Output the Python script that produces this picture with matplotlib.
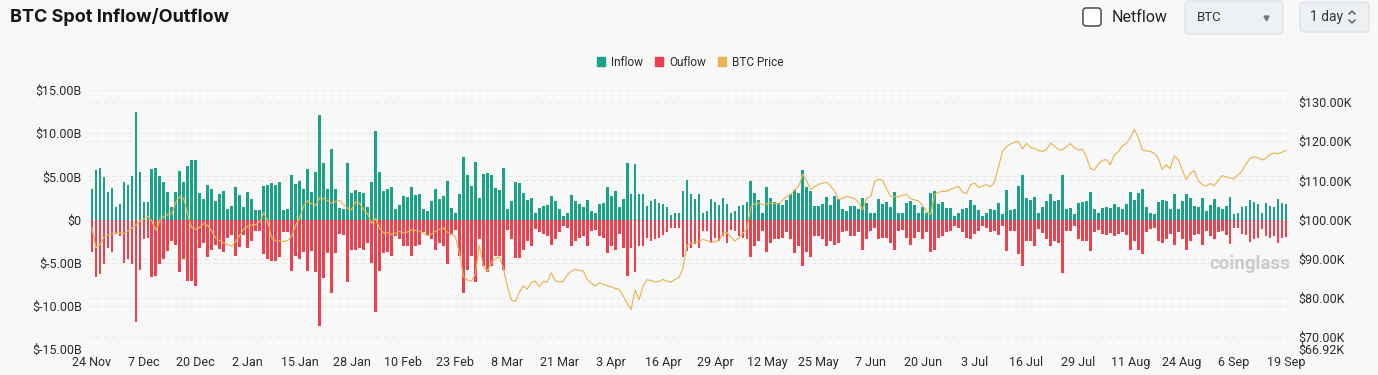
import matplotlib.pyplot as plt
import numpy as np
from matplotlib.patches import Patch, FancyBboxPatch
from matplotlib.lines import Line2D
from matplotlib.transforms import IdentityTransform

# daily spot flows in $B, 24 Nov -> 19 Sep
inflow = [
    3.5, 5.7, 6.0, 4.9, 3.2, 3.6, 1.5, 1.8, 4.4, 4.0,
    5.0, 12.4, 5.5, 2.0, 2.0, 5.8, 6.0, 5.0, 4.3, 3.2,
    1.5, 3.2, 5.6, 4.4, 6.2, 6.9, 6.9, 3.1, 2.4, 4.0,
    3.5, 2.2, 3.0, 3.3, 1.2, 1.6, 3.8, 2.8, 1.5, 3.2,
    2.4, 1.1, 1.1, 3.9, 4.0, 4.2, 4.0, 4.4, 1.1, 1.2,
    5.1, 4.1, 4.5, 3.5, 5.8, 3.2, 5.5, 12.1, 6.5, 3.5,
    8.2, 3.5, 1.3, 1.2, 6.6, 3.1, 3.4, 3.2, 3.1, 1.5,
    4.3, 10.2, 5.5, 3.3, 3.5, 3.8, 1.2, 1.7, 2.7, 2.6,
    3.8, 2.8, 2.9, 1.2, 1.0, 2.2, 3.5, 2.4, 2.7, 4.5,
    1.3, 0.8, 3.0, 7.2, 5.2, 3.9, 6.7, 2.5, 5.3, 5.4,
    5.2, 3.7, 3.4, 6.0, 1.2, 2.2, 4.4, 4.2, 3.1, 2.3,
    2.5, 0.7, 1.3, 1.6, 1.7, 2.7, 2.1, 1.2, 0.4, 0.8,
    2.8, 2.1, 1.8, 1.5, 2.3, 1.0, 0.8, 1.8, 1.9, 3.8,
    2.7, 3.3, 1.5, 2.4, 6.5, 3.0, 6.4, 3.0, 3.0, 1.6,
    2.2, 2.4, 1.9, 1.8, 1.5, 0.5, 0.8, 0.8, 3.3, 4.6,
    3.0, 2.4, 3.0, 0.8, 1.0, 2.4, 2.0, 1.7, 2.5, 1.8,
    0.8, 1.0, 1.6, 1.7, 2.0, 4.5, 3.1, 2.3, 0.8, 3.8,
    2.5, 2.0, 1.9, 1.7, 2.3, 2.9, 3.4, 3.1, 5.7, 3.8,
    3.3, 1.6, 1.6, 1.8, 2.6, 1.7, 2.7, 2.4, 1.2, 1.0,
    1.6, 1.6, 1.2, 2.5, 1.9, 0.8, 0.8, 2.4, 1.8, 2.0,
    1.5, 3.2, 0.8, 0.8, 1.9, 2.2, 1.7, 0.8, 1.5, 0.8,
    3.1, 3.3, 1.8, 2.0, 1.3, 1.3, 0.4, 0.8, 1.2, 1.3,
    2.3, 1.7, 1.1, 0.4, 0.7, 1.2, 1.1, 1.9, 0.6, 3.4,
    1.1, 1.2, 3.9, 5.2, 2.5, 2.3, 2.6, 0.8, 1.5, 2.2,
    3.0, 2.1, 2.3, 5.2, 1.2, 1.3, 0.6, 1.9, 2.0, 2.1,
    3.2, 1.2, 0.8, 1.3, 1.5, 1.3, 1.8, 1.5, 1.2, 1.8,
    3.2, 2.3, 3.1, 3.5, 1.5, 0.7, 0.6, 2.0, 2.3, 2.1,
    1.2, 2.9, 1.2, 2.1, 2.9, 2.5, 1.6, 1.5, 2.5, 1.0,
    1.7, 2.4, 1.5, 1.2, 1.6, 2.6, 0.6, 0.7, 1.5, 1.6,
    2.3, 2.0, 1.8, 0.8, 1.9, 1.6, 1.5, 2.4, 1.9, 1.8,
]

outflow = [
    3.8, 6.7, 6.3, 5.2, 3.3, 3.8, 1.7, 1.9, 5.0, 4.6,
    5.2, 11.9, 5.8, 2.3, 2.1, 6.7, 6.5, 5.2, 4.6, 3.7,
    2.5, 2.9, 6.1, 4.6, 7.1, 7.1, 7.7, 3.3, 2.7, 4.4,
    3.5, 2.9, 3.4, 3.8, 2.2, 1.8, 4.2, 3.2, 1.8, 3.3,
    2.5, 1.3, 1.3, 4.0, 4.6, 4.8, 4.8, 4.4, 1.5, 1.5,
    6.0, 4.2, 4.6, 3.8, 6.0, 3.6, 6.1, 12.3, 6.8, 3.9,
    8.5, 3.9, 1.7, 1.8, 7.2, 3.5, 3.5, 3.3, 3.5, 2.7,
    5.0, 10.7, 6.0, 3.9, 3.8, 4.2, 1.9, 2.3, 3.1, 3.1,
    4.2, 3.1, 3.0, 1.5, 1.8, 2.3, 3.5, 2.7, 3.1, 5.2,
    1.8, 1.2, 4.2, 8.5, 5.8, 4.2, 7.2, 2.3, 5.4, 6.1,
    5.4, 4.2, 4.2, 5.8, 1.2, 2.3, 4.5, 4.5, 3.5, 2.5,
    3.1, 1.1, 1.5, 1.7, 1.9, 2.9, 2.3, 1.5, 0.7, 1.0,
    3.1, 2.5, 2.2, 1.9, 3.1, 1.3, 1.2, 1.9, 2.1, 3.9,
    3.1, 3.5, 1.7, 3.3, 6.6, 3.3, 6.1, 3.1, 3.1, 2.1,
    2.5, 2.3, 2.1, 1.8, 1.5, 1.0, 1.0, 1.0, 4.3, 3.6,
    3.3, 2.8, 3.3, 1.3, 1.3, 2.7, 2.2, 2.5, 1.9, 2.7,
    1.2, 1.3, 1.9, 2.1, 2.3, 4.4, 3.1, 2.5, 1.3, 3.8,
    2.7, 2.3, 2.3, 2.1, 1.5, 2.3, 3.9, 3.1, 5.4, 3.8,
    4.3, 1.9, 1.9, 2.3, 3.1, 2.5, 2.9, 2.7, 1.5, 1.3,
    1.9, 1.9, 1.5, 3.5, 2.3, 1.3, 1.0, 2.3, 2.2, 2.1,
    2.7, 3.5, 1.3, 1.2, 2.1, 2.9, 2.1, 1.5, 2.3, 1.5,
    3.8, 3.5, 2.2, 1.9, 1.5, 1.3, 0.7, 1.0, 1.5, 2.1,
    2.3, 1.7, 1.3, 0.7, 1.0, 1.5, 1.3, 1.8, 0.8, 3.7,
    1.3, 1.3, 4.0, 5.4, 2.5, 2.5, 3.1, 1.1, 1.6, 2.3,
    3.1, 2.5, 2.7, 6.2, 1.3, 1.3, 0.8, 2.3, 2.5, 2.5,
    3.7, 1.5, 1.2, 1.7, 1.8, 1.6, 1.9, 1.7, 1.5, 1.8,
    3.5, 2.5, 3.5, 4.0, 1.5, 1.1, 1.0, 2.5, 2.7, 2.3,
    1.7, 3.0, 1.5, 2.3, 3.5, 2.5, 1.8, 1.7, 3.0, 1.3,
    1.9, 2.3, 1.5, 1.3, 1.8, 2.8, 1.0, 1.0, 1.7, 1.8,
    2.6, 2.3, 2.1, 1.1, 1.9, 2.1, 1.9, 2.7, 2.2, 2.0,
]

# BTC price in $K
price = [
    97.9, 92.8, 93.5, 95.5, 96.0, 96.3, 96.5, 96.6, 96.4, 97.0,
    97.8, 98.5, 99.6, 100.2, 100.8, 99.5, 97.2, 99.8, 100.8, 101.3,
    101.5, 104.5, 105.9, 105.3, 101.0, 97.8, 97.5, 98.0, 99.0, 98.5,
    97.0, 95.2, 94.6, 94.0, 93.6, 93.2, 94.5, 96.0, 97.5, 98.3,
    98.6, 98.7, 99.5, 101.7, 99.5, 95.3, 94.6, 94.5, 94.4, 94.6,
    95.8, 98.5, 100.4, 103.5, 104.8, 104.0, 103.6, 105.5, 105.3, 104.8,
    104.2, 104.6, 104.9, 103.8, 102.8, 102.5, 104.5, 104.2, 102.5, 101.5,
    99.0, 100.3, 97.8, 96.6, 96.7, 96.2, 96.5, 97.0, 96.6, 96.8,
    97.3, 97.2, 97.0, 96.5, 95.9, 96.2, 97.0, 97.5, 97.9, 96.7,
    96.3, 95.5, 91.5, 85.5, 84.5, 84.3, 86.0, 93.5, 88.0, 86.8,
    89.0, 90.0, 90.5, 87.5, 83.0, 79.5, 79.0, 81.4, 83.0, 82.2,
    83.9, 84.3, 82.8, 84.2, 84.0, 86.4, 84.3, 84.0, 84.2, 85.8,
    86.8, 87.3, 87.0, 86.9, 84.7, 83.8, 83.0, 83.8, 83.5, 83.1,
    82.8, 82.4, 82.2, 80.5, 78.6, 77.0, 82.0, 79.5, 83.0, 84.6,
    84.4, 84.0, 84.2, 84.7, 84.2, 84.0, 84.7, 85.2, 87.5, 93.4,
    94.0, 94.2, 94.4, 94.9, 94.6, 94.1, 94.4, 94.5, 96.5, 96.7,
    95.5, 94.5, 95.3, 96.5, 97.6, 103.2, 104.0, 104.2, 103.8, 104.0,
    104.2, 104.1, 104.0, 105.0, 105.9, 106.4, 107.6, 108.5, 111.6, 109.8,
    107.6, 108.4, 109.0, 109.3, 109.5, 108.5, 107.2, 105.1, 105.5, 105.9,
    105.6, 105.4, 104.3, 102.5, 105.5, 105.9, 109.7, 110.3, 110.0, 107.8,
    105.9, 105.8, 105.8, 106.2, 106.4, 105.3, 105.0, 104.7, 103.6, 102.0,
    101.3, 106.4, 107.0, 107.2, 107.2, 107.7, 108.1, 108.5, 107.0, 106.6,
    108.9, 109.3, 108.2, 108.5, 108.9, 108.4, 109.5, 113.5, 117.4, 118.6,
    119.3, 119.7, 119.9, 118.0, 119.5, 118.4, 118.2, 117.6, 117.4, 117.8,
    119.5, 118.8, 117.8, 117.8, 118.6, 119.4, 118.3, 117.8, 118.0, 116.0,
    113.1, 112.6, 114.2, 115.1, 115.3, 114.0, 116.5, 117.3, 118.8, 119.4,
    120.8, 123.0, 121.0, 117.8, 117.5, 117.4, 116.9, 115.7, 112.8, 114.0,
    113.0, 116.3, 115.3, 112.7, 110.2, 111.8, 112.5, 110.0, 108.9, 108.5,
    109.2, 108.6, 110.0, 111.2, 110.9, 110.6, 110.4, 111.4, 112.4, 114.3,
    115.6, 116.0, 115.8, 115.2, 115.6, 116.6, 117.0, 116.8, 117.2, 117.6,
]

date_labels = ['24 Nov', '7 Dec', '20 Dec', '2 Jan', '15 Jan', '28 Jan', '10 Feb',
               '23 Feb', '8 Mar', '21 Mar', '3 Apr', '16 Apr', '29 Apr', '12 May',
               '25 May', '7 Jun', '20 Jun', '3 Jul', '16 Jul', '29 Jul', '11 Aug',
               '24 Aug', '6 Sep', '19 Sep']
flow_ticks = [15, 10, 5, 0, -5, -10, -15]
flow_labels = ['$15.00B', '$10.00B', '$5.00B', '$0', '$-5.00B', '$-10.00B', '$-15.00B']
price_ticks = [130, 120, 110, 100, 90, 80, 70, 66.92]
price_labels = ['$130.00K', '$120.00K', '$110.00K', '$100.00K', '$90.00K',
                '$80.00K', '$70.00K', '$66.92K']

W, H = 1378, 375
BG = '#f8f8f8'
GREEN = '#1ca286'
RED = '#ee4150'
GOLD = '#e7b653'
GRID = '#e8e8e8'
TXT = '#2a2a2a'

plt.rcParams['font.family'] = ['Roboto', 'DejaVu Sans']

fig = plt.figure(figsize=(W / 100, H / 100), dpi=100, facecolor=BG)
ax = fig.add_axes([88 / W, 1 - 349 / H, (1290 - 88) / W, (349 - 90) / H])
ax.set_facecolor(BG)

days = np.arange(len(inflow))
ax.bar(days, inflow, width=0.7, color=GREEN, zorder=3)
ax.bar(days, -np.array(outflow), width=0.7, color=RED, zorder=3)

flow_lim = (-15, 15)
price_lim = (66.92, 133.08)
ax.set_xlim(-1, 300)
ax.set_ylim(*flow_lim)

# grid lines for both scales, kept behind the bars
for t in flow_ticks:
    ax.axhline(t, color=GRID, lw=0.8, ls=(0, (4, 3)), zorder=1)
for p in price_ticks[:-1]:
    y = flow_lim[0] + (p - price_lim[0]) / (price_lim[1] - price_lim[0]) * (flow_lim[1] - flow_lim[0])
    ax.axhline(y, color=GRID, lw=0.8, ls=(0, (4, 3)), zorder=1)

ax.set_yticks(flow_ticks)
ax.set_yticklabels(flow_labels)
ax.set_xticks(np.arange(0, 300, 13))
ax.set_xticklabels(date_labels)
ax.tick_params(axis='y', length=0, pad=4.5, labelsize=9, labelcolor=TXT)
ax.tick_params(axis='x', length=0, pad=5, labelsize=9, labelcolor=TXT)
for s in ax.spines.values():
    s.set_visible(False)

ax2 = ax.twinx()
ax2.plot(days, price, color=GOLD, lw=0.85, zorder=4)
ax2.set_ylim(*price_lim)
ax2.set_yticks(price_ticks)
ax2.set_yticklabels(price_labels)
ax2.tick_params(axis='y', length=0, pad=6, labelsize=9, labelcolor=TXT)
for s in ax2.spines.values():
    s.set_visible(False)

# legend
handles = [Patch(color=GREEN, label='Inflow'), Patch(color=RED, label='Ouflow'),
           Patch(color=GOLD, label='BTC Price')]
fig.legend(handles=handles, loc='center', bbox_to_anchor=(690 / W, 1 - 62 / H), ncol=3,
           frameon=False, fontsize=8.5, handlelength=0.7, handleheight=0.7,
           handletextpad=0.5, columnspacing=1.0, labelcolor=TXT)

# watermark
fig.text(1290 / W, 1 - 264 / H, 'coinglass', ha='right', va='center', fontsize=13.5,
         fontweight='bold', color='#cccccc')

# title and header controls
fig.text(10 / W, 1 - 17 / H, 'BTC Spot Inflow/Outflow', fontsize=13, fontweight='bold',
         va='center', ha='left', color='#151515', family=['Inter', 'DejaVu Sans'])

tr = IdentityTransform()


def box(x0, y0, x1, y1, face, edge, r, lw=1.0):
    fig.add_artist(FancyBboxPatch((x0, H - y1), x1 - x0, y1 - y0,
                                  boxstyle=f'round,pad=0,rounding_size={r}',
                                  transform=tr, facecolor=face, edgecolor=edge, lw=lw))


box(1083, 8, 1101, 26, 'white', '#4a4a4a', 3, lw=1.1)
fig.text(1112 / W, 1 - 17 / H, 'Netflow', fontsize=11.5, va='center', color='#222222')

box(1185, 1, 1283, 34, '#eef1f4', '#dfe3e8', 4)
fig.text(1197 / W, 1 - 17.5 / H, 'BTC', fontsize=9.5, va='center', color='#333333')
fig.add_artist(Line2D([1266], [H - 18], transform=tr, marker='v', markersize=3.5,
                      color='#777777', lw=0))

box(1300, 2, 1369, 32, '#eef1f4', '#dfe3e8', 4)
fig.text(1310 / W, 1 - 17 / H, '1 day', fontsize=10, va='center', color='#333333')
fig.add_artist(Line2D([1349, 1352, 1355], [H - 14, H - 11, H - 14], transform=tr,
                      color='#555555', lw=1))
fig.add_artist(Line2D([1349, 1352, 1355], [H - 20, H - 23, H - 20], transform=tr,
                      color='#555555', lw=1))

fig.savefig('out.png', dpi=100, facecolor=BG)
